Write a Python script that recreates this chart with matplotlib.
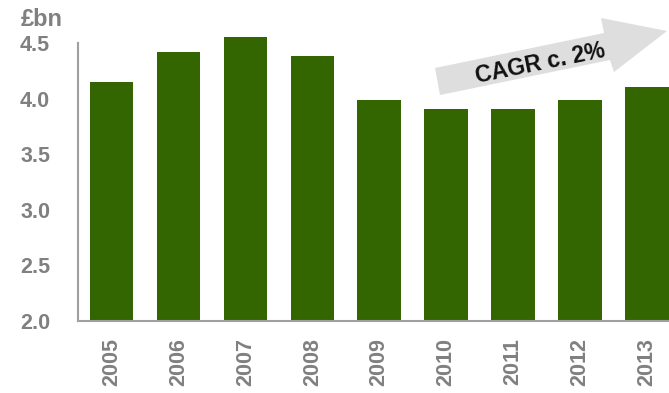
import matplotlib
matplotlib.use("Agg")
import matplotlib.pyplot as plt
from matplotlib.patches import Polygon

plt.rcParams['font.family'] = ['Liberation Sans', 'DejaVu Sans']

years = ["2005", "2006", "2007", "2008", "2009", "2010", "2011", "2012", "2013"]
revenue_bn = [4.15, 4.42, 4.55, 4.38, 3.99, 3.91, 3.91, 3.99, 4.10]
y_ticks = [2.0, 2.5, 3.0, 3.5, 4.0, 4.5]
unit_label = "£bn"
trend_label = "CAGR c. 2%"

W, H = 669, 393
fig = plt.figure(figsize=(W / 100, H / 100), dpi=100)

left_px, right_px, top_px, bottom_px = 78, 669, 43, 321
ax = fig.add_axes([left_px / W, (H - bottom_px) / H,
                   (right_px - left_px) / W, (bottom_px - top_px) / H])

green = "#336600"
grey_text = "#808080"
spine_grey = "#a0a0a0"

x = list(range(len(years)))
ax.bar(x, [v - 2.0 for v in revenue_bn], bottom=2.0, width=0.65,
       color=green, clip_on=False, zorder=2)

ax.set_xlim(-0.5, 8.33)
ax.set_ylim(2.0, 4.5)
ax.set_yticks(y_ticks)
ax.set_yticklabels([f"{t:.1f}" for t in y_ticks], fontsize=15.5,
                   fontweight="bold", color=grey_text)
ax.set_xticks(x)
ax.set_xticklabels(years, rotation=90, fontsize=15.5,
                   fontweight="bold", color=grey_text)
ax.tick_params(axis="y", length=0, pad=20)
ax.tick_params(axis="x", length=0, pad=12)

for side in ("top", "right"):
    ax.spines[side].set_visible(False)
for side in ("left", "bottom"):
    ax.spines[side].set_color(spine_grey)
    ax.spines[side].set_linewidth(1.5)
    ax.spines[side].set_zorder(3)

fig.text(21 / W, 1 - 19 / H, unit_label, fontsize=17, fontweight="bold",
         color=grey_text, ha="left", va="center")

# Trend arrow (pixel coordinates, converted to figure fraction)
arrow_px = [(435, 68), (604, 33), (601, 18), (667, 31),
            (614, 72), (610, 60), (440, 95)]
arrow_fig = [(px / W, 1 - py / H) for px, py in arrow_px]
fig.patches.append(Polygon(arrow_fig, closed=True, transform=fig.transFigure,
                           facecolor="#dedede", edgecolor="none", zorder=1))
fig.text(540 / W, 1 - 63 / H, trend_label, fontsize=16.5, fontweight="bold",
         color="#111111", ha="center", va="center", rotation=11.5,
         rotation_mode="anchor")

fig.savefig("out.png", dpi=100)
